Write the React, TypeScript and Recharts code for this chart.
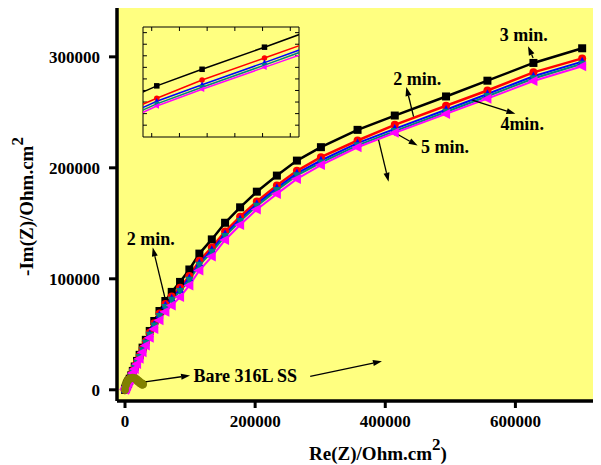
import React from 'react';
import {
  ComposedChart,
  Line,
  XAxis,
  YAxis,
  CartesianGrid,
  ReferenceLine,
  ReferenceDot,
  ReferenceArea,
  Label,
} from 'recharts';

// Real part of the impedance (Ohm.cm2), shared by the coated samples
const zRe = [
  0, 400, 1000, 1800, 2800, 4000, 5500, 7300, 9500, 12000, 15000, 18500, 22500, 27000, 32000,
  38000, 45000, 53000, 62000, 71800, 84600, 98900, 114300, 133400, 153800, 176900, 202600,
  233400, 264200, 301100, 357400, 414600, 493400, 557000, 627700, 702600,
];

// -Im(Z) for each deposition time
const im3min = [
  0, 500, 1300, 2300, 3600, 5300, 7500, 10000, 13000, 17000, 21000, 26000, 31500, 38000, 45000,
  53000, 62000, 71000, 80000, 88200, 97200, 108400, 122700, 135500, 150500, 164400, 178500,
  193000, 206500, 218600, 234200, 247100, 264300, 278500, 294500, 307700,
];
const im2min = [
  0, 480, 1250, 2200, 3450, 5100, 7200, 9650, 12550, 16450, 20350, 25200, 30500, 36800, 43600,
  51300, 60000, 68800, 77400, 84000, 92000, 102500, 116200, 128300, 142600, 156000, 169700,
  184000, 197300, 209600, 224600, 238700, 255900, 269700, 286000, 298600,
];
const im1min = [
  0, 470, 1220, 2150, 3380, 5000, 7050, 9450, 12300, 16150, 19950, 24700, 29900, 36100, 42800,
  50300, 58800, 67400, 75800, 82300, 90200, 100500, 114000, 126000, 140300, 153700, 167400,
  181700, 195000, 206600, 222200, 235100, 252300, 266500, 282500, 295700,
];
const im4min = [
  0, 460, 1200, 2100, 3320, 4920, 6950, 9300, 12100, 15900, 19650, 24300, 29400, 35500, 42100,
  49500, 57800, 66200, 74500, 81000, 88800, 99000, 112400, 124300, 138500, 152000, 165600,
  179900, 193200, 204600, 220200, 233100, 250300, 264500, 280500, 293700,
];
const im5min = [
  0, 440, 1150, 2000, 3150, 4700, 6650, 8900, 11600, 15200, 18800, 23200, 28000, 33800, 40000,
  47000, 54800, 62600, 70300, 76000, 83500, 94000, 107500, 120000, 135000, 148500, 162500,
  176500, 190000, 202500, 218500, 231500, 248600, 262300, 278200, 291500,
];

// Uncoated steel: small arc close to the origin
const bareRe = [0, 1500, 3500, 6000, 9000, 12000, 15000, 18000, 21000, 24000, 27000];
const bareIm = [0, 4500, 7500, 9500, 10500, 10800, 10300, 9000, 7500, 6000, 5000];

// Axis ticks
const xTicks = [0, 200000, 400000, 600000];
const yTicks = [0, 100000, 200000, 300000];
const insetXTicks = [351000, 386000, 421000, 456000, 491000, 526000];
const insetYTicks = [203600, 212600, 221600, 230600, 239600, 248600, 257600, 266600, 275600];

// Text annotations (left edge, baseline)
const noteText = ['3 min.', '2 min.', '4min.', '5 min.', '2 min.', 'Bare 316L SS'];
const noteRe = [575900, 412300, 576900, 454900, 2600, 105100];
const noteIm = [314000, 274900, 234200, 213200, 130300, 6900];

// Arrows (tail -> head)
const arrowFromRe = [627200, 443500, 533800, 413900, 389700, 64200, 28200, 284600];
const arrowFromIm = [299000, 246200, 260900, 231800, 225200, 76100, 6900, 12000];
const arrowToRe = [619400, 432300, 600000, 449700, 405100, 42600, 100000, 394900];
const arrowToIm = [309500, 272800, 248700, 220000, 187500, 128300, 12900, 25800];

const FONT = '"Liberation Serif", "Times New Roman", serif';
const PLOT_BG = '#FFFF80';
const INSET_X: [number, number] = [340000, 537000];
const INSET_Y: [number, number] = [194400, 280000];
// inset tick length expressed in axis units (about 4 px)
const INSET_TICK_X = 5000;
const INSET_TICK_Y = 3100;

type Marker = 'square' | 'circle' | 'up' | 'down' | 'left';

const toPoints = (xs: number[], ys: number[]) => xs.map((x, i) => ({ x, y: ys[i] }));

const series = [
  { id: 's3', data: toPoints(zRe, im3min), color: '#000000', marker: 'square' as Marker },
  { id: 's2', data: toPoints(zRe, im2min), color: '#FF0000', marker: 'circle' as Marker },
  { id: 's1', data: toPoints(zRe, im1min), color: '#0000FF', marker: 'up' as Marker },
  { id: 's4', data: toPoints(zRe, im4min), color: '#008080', marker: 'down' as Marker },
  { id: 's5', data: toPoints(zRe, im5min), color: '#FF00FF', marker: 'left' as Marker },
];
const bareData = toPoints(bareRe, bareIm);

function makeDot(kind: Marker, s: number, color: string) {
  return (props: any) => {
    const { cx, cy, index } = props;
    const key = `m-${index}`;
    if (cx == null || cy == null || Number.isNaN(cx) || Number.isNaN(cy)) return <g key={key} />;
    const h = s / 2;
    switch (kind) {
      case 'square':
        return <rect key={key} x={cx - h} y={cy - h} width={s} height={s} fill={color} />;
      case 'circle':
        return <circle key={key} cx={cx} cy={cy} r={h} fill={color} />;
      case 'up':
        return (
          <polygon key={key} fill={color}
            points={`${cx},${cy - s * 0.6} ${cx - h},${cy + s * 0.4} ${cx + h},${cy + s * 0.4}`} />
        );
      case 'down':
        return (
          <polygon key={key} fill={color}
            points={`${cx},${cy + s * 0.6} ${cx - h},${cy - s * 0.4} ${cx + h},${cy - s * 0.4}`} />
        );
      default:
        return (
          <polygon key={key} fill={color}
            points={`${cx - s * 0.6},${cy} ${cx + s * 0.4},${cy - h} ${cx + s * 0.4},${cy + h}`} />
        );
    }
  };
}

function arrowShape(p: any) {
  const { x1, y1, x2, y2 } = p;
  if ([x1, y1, x2, y2].some((v) => v == null || Number.isNaN(v))) return <g />;
  const dx = x2 - x1;
  const dy = y2 - y1;
  const len = Math.sqrt(dx * dx + dy * dy) || 1;
  const ux = dx / len;
  const uy = dy / len;
  const headL = 9;
  const headW = 3;
  const bx = x2 - ux * headL;
  const by = y2 - uy * headL;
  return (
    <g>
      <line x1={x1} y1={y1} x2={bx} y2={by} stroke="#000" strokeWidth={1.3} />
      <polygon
        fill="#000"
        points={`${x2},${y2} ${bx - uy * headW},${by + ux * headW} ${bx + uy * headW},${by - ux * headW}`}
      />
    </g>
  );
}

const tickStyle = { fontFamily: FONT, fontWeight: 'bold', fontSize: 17, fill: '#000' };

function XTitle(props: any) {
  const vb = props.viewBox || { x: 117, y: 401, width: 480, height: 64 };
  const cx = vb.x + vb.width / 2 + 21;
  const by = vb.y + 59;
  return (
    <text x={cx} y={by} textAnchor="middle" fontFamily={FONT} fontWeight="bold" fontSize={19} fill="#000">
      <tspan>Re(Z)/Ohm.cm</tspan>
      <tspan dy={-10} fontSize={17}>2</tspan>
      <tspan dy={10}>)</tspan>
    </text>
  );
}

function YTitle(props: any) {
  const vb = props.viewBox || { x: 17, y: 8, width: 100, height: 393 };
  const bx = vb.x + 16;
  const cy = vb.y + vb.height / 2 + 2;
  return (
    <text
      x={bx}
      y={cy}
      transform={`rotate(-90 ${bx} ${cy})`}
      textAnchor="middle"
      fontFamily={FONT}
      fontWeight="bold"
      fontSize={19}
      fill="#000"
    >
      <tspan>-Im(Z)/Ohm.cm</tspan>
      <tspan dy={-10} fontSize={17}>2</tspan>
    </text>
  );
}

const tickSeg = (key: string, x1: number, y1: number, x2: number, y2: number) => (
  <ReferenceLine key={key} segment={[{ x: x1, y: y1 }, { x: x2, y: y2 }]} stroke="#000" strokeWidth={1} />
);

function InsetChart() {
  const [x0, x1] = INSET_X;
  const [y0, y1] = INSET_Y;
  return (
    <ComposedChart width={158} height={112} margin={{ top: 1, right: 1, bottom: 1, left: 1 }}>
      <XAxis dataKey="x" type="number" domain={INSET_X} allowDataOverflow hide />
      <YAxis type="number" domain={INSET_Y} allowDataOverflow hide />
      <ReferenceArea x1={x0} x2={x1} y1={y0} y2={y1} fill="none" fillOpacity={0} stroke="#000" strokeWidth={1} />
      {insetXTicks.map((t) => tickSeg(`bx-${t}`, t, y0, t, y0 + INSET_TICK_Y))}
      {insetXTicks.map((t) => tickSeg(`tx-${t}`, t, y1, t, y1 - INSET_TICK_Y))}
      {insetYTicks.map((t) => tickSeg(`ly-${t}`, x0, t, x0 + INSET_TICK_X, t))}
      {insetYTicks.map((t) => tickSeg(`ry-${t}`, x1, t, x1 - INSET_TICK_X, t))}
      {series.map((s) => (
        <Line key={`in-${s.id}`} data={s.data} dataKey="y" type="linear" stroke={s.color}
          strokeWidth={1.5} dot={makeDot(s.marker, 5.5, s.color)} activeDot={false}
          isAnimationActive={false} />
      ))}
    </ComposedChart>
  );
}

export default function App() {
  return (
    <div style={{ position: 'relative', width: 601, height: 465, marginLeft: -8, marginTop: -8, background: '#fff' }}>
      <ComposedChart width={601} height={465} margin={{ top: 8, right: 4, bottom: 0, left: 17 }}>
        <CartesianGrid fill={PLOT_BG} horizontal={false} vertical={false} />
        <XAxis dataKey="x" type="number" domain={[-12300, 725400]} allowDataOverflow ticks={xTicks}
          interval={0} height={64} tickSize={7} tickMargin={7} tick={tickStyle}
          axisLine={{ stroke: '#000', strokeWidth: 3.5 }} tickLine={{ stroke: '#000', strokeWidth: 3 }}>
          <Label content={<XTitle />} />
        </XAxis>
        <XAxis xAxisId="top" orientation="top" dataKey="x" type="number" domain={[-12300, 725400]}
          allowDataOverflow height={0} tick={false} tickLine={false}
          axisLine={{ stroke: '#000', strokeWidth: 3.5 }} />
        <YAxis type="number" domain={[-10100, 344000]} allowDataOverflow ticks={yTicks} interval={0}
          width={100} tickSize={8} tickMargin={9} tick={tickStyle}
          axisLine={{ stroke: '#000', strokeWidth: 3.5 }} tickLine={{ stroke: '#000', strokeWidth: 3 }}>
          <Label content={<YTitle />} />
        </YAxis>
        <YAxis yAxisId="right" orientation="right" type="number" domain={[-10100, 344000]}
          allowDataOverflow width={0} tick={false} tickLine={false}
          axisLine={{ stroke: '#000', strokeWidth: 3.5 }} />

        {series.map((s) => (
          <Line key={s.id} data={s.data} dataKey="y" type="linear" stroke={s.color}
            strokeWidth={s.marker === 'square' || s.marker === 'circle' ? 2.5 : 2}
            dot={makeDot(s.marker, s.marker === 'left' ? 10 : 8, s.color)} activeDot={false}
            isAnimationActive={false} />
        ))}
        <Line data={bareData} dataKey="y" type="linear" stroke="#808000" strokeWidth={9}
          strokeLinecap="round" strokeLinejoin="round"
          dot={makeDot('circle', 8, '#808000')} activeDot={false} isAnimationActive={false} />

        {arrowFromRe.map((x1, i) => (
          <ReferenceLine key={`arrow-${i}`} segment={[{ x: x1, y: arrowFromIm[i] }, { x: arrowToRe[i], y: arrowToIm[i] }]}
            shape={arrowShape} />
        ))}
        {noteText.map((t, i) => (
          <ReferenceDot key={`note-${i}`} x={noteRe[i]} y={noteIm[i]} r={0}
            shape={(p: any) => (
              <text x={p.cx} y={p.cy} fontFamily={FONT} fontWeight="bold" fontSize={18} fill="#000">
                {t}
              </text>
            )} />
        ))}
      </ComposedChart>
      <div style={{ position: 'absolute', left: 142, top: 26 }}>
        <InsetChart />
      </div>
    </div>
  );
}
